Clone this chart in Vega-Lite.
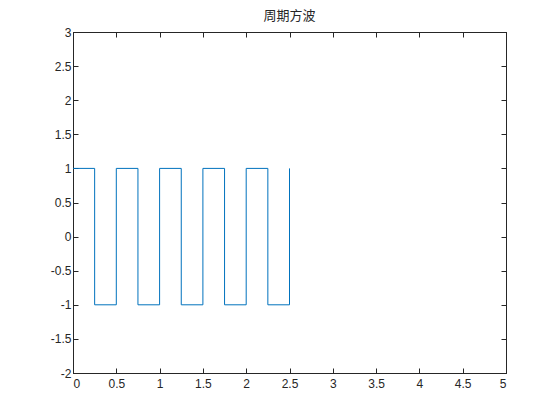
{
  "$schema": "https://vega.github.io/schema/vega-lite/v6.json",
  "width": 433,
  "height": 341,
  "autosize": "none",
  "padding": {"left": 73, "top": 32, "right": 54, "bottom": 47},
  "background": "white",
  "title": {
    "text": "周期方波",
    "font": "Noto Sans CJK SC",
    "fontSize": 13,
    "fontWeight": "normal",
    "color": "#262626",
    "offset": 3
  },
  "config": {
    "view": {"stroke": "#262626", "strokeWidth": 1},
    "axis": {
      "grid": false,
      "domainColor": "#262626",
      "tickColor": "#262626",
      "tickSize": -5,
      "labelColor": "#262626",
      "labelFont": "Liberation Sans",
      "labelFontSize": 12,
      "labelExpr": "datum.value + ''",
      "title": null
    }
  },
  "data": {
    "values": [
      {"i": 0, "t": 0, "v": 1},
      {"i": 1, "t": 0.25, "v": 1},
      {"i": 2, "t": 0.25, "v": -1},
      {"i": 3, "t": 0.5, "v": -1},
      {"i": 4, "t": 0.5, "v": 1},
      {"i": 5, "t": 0.75, "v": 1},
      {"i": 6, "t": 0.75, "v": -1},
      {"i": 7, "t": 1.0, "v": -1},
      {"i": 8, "t": 1.0, "v": 1},
      {"i": 9, "t": 1.25, "v": 1},
      {"i": 10, "t": 1.25, "v": -1},
      {"i": 11, "t": 1.5, "v": -1},
      {"i": 12, "t": 1.5, "v": 1},
      {"i": 13, "t": 1.75, "v": 1},
      {"i": 14, "t": 1.75, "v": -1},
      {"i": 15, "t": 2.0, "v": -1},
      {"i": 16, "t": 2.0, "v": 1},
      {"i": 17, "t": 2.25, "v": 1},
      {"i": 18, "t": 2.25, "v": -1},
      {"i": 19, "t": 2.5, "v": -1},
      {"i": 20, "t": 2.5, "v": 1}
    ]
  },
  "layer": [
    {
      "mark": {"type": "line", "color": "#0072BD", "strokeWidth": 1, "clip": true},
      "encoding": {
        "x": {
          "field": "t", "type": "quantitative",
          "scale": {"domain": [0, 5], "nice": false, "zero": false},
          "axis": {"values": [0, 0.5, 1, 1.5, 2, 2.5, 3, 3.5, 4, 4.5, 5], "labelPadding": 10}
        },
        "y": {
          "field": "v", "type": "quantitative",
          "scale": {"domain": [-2, 3], "nice": false, "zero": false},
          "axis": {"values": [-2, -1.5, -1, -0.5, 0, 0.5, 1, 1.5, 2, 2.5, 3], "labelPadding": 7}
        },
        "order": {"field": "i", "type": "quantitative"}
      }
    },
    {
      "mark": {"type": "line", "opacity": 0},
      "encoding": {
        "x": {
          "field": "t", "type": "quantitative",
          "scale": {"domain": [0, 5], "nice": false, "zero": false},
          "axis": {"orient": "top", "values": [0, 0.5, 1, 1.5, 2, 2.5, 3, 3.5, 4, 4.5, 5], "labels": false}
        },
        "y": {
          "field": "v", "type": "quantitative",
          "scale": {"domain": [-2, 3], "nice": false, "zero": false},
          "axis": {"orient": "right", "values": [-2, -1.5, -1, -0.5, 0, 0.5, 1, 1.5, 2, 2.5, 3], "labels": false}
        },
        "order": {"field": "i", "type": "quantitative"}
      }
    }
  ],
  "resolve": {"axis": {"x": "independent", "y": "independent"}}
}
